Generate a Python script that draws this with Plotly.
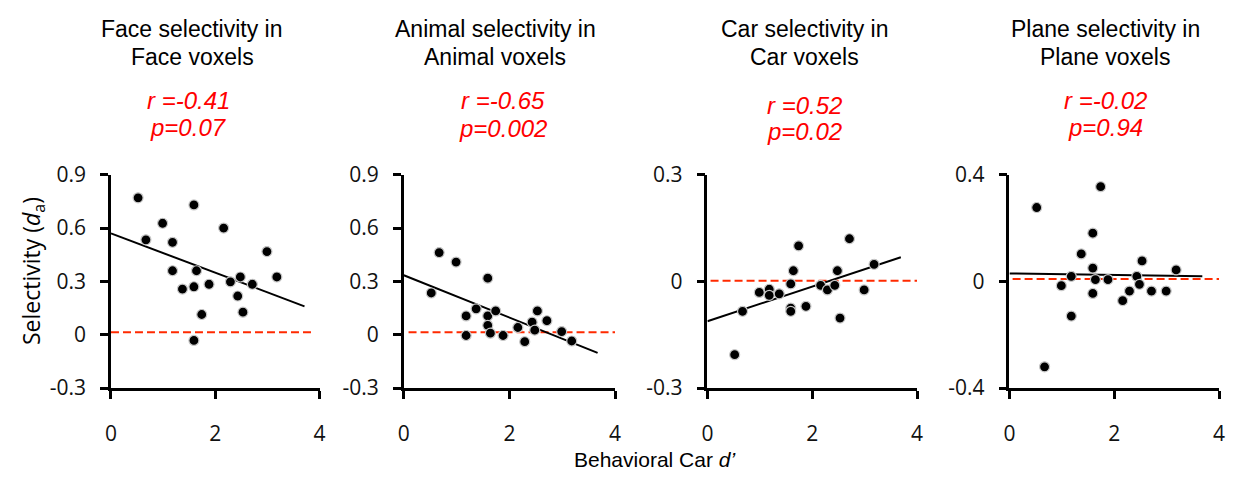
import plotly.graph_objects as go

W, H = 1235, 485

# Behavioral Car d' (shared x for each subject)
d_prime = [0.52, 0.67, 0.99, 1.18, 1.18, 1.37, 1.59, 1.59, 1.59, 1.64,
           1.74, 1.88, 2.16, 2.29, 2.43, 2.48, 2.53, 2.71, 2.99, 3.18]

face_sel = [0.77, 0.534, 0.627, 0.52, 0.36, 0.257, 0.73, 0.27, -0.032, 0.36,
            0.114, 0.284, 0.60, 0.298, 0.218, 0.325, 0.127, 0.284, 0.468, 0.325]
animal_sel = [0.235, 0.462, 0.409, 0.106, -0.004, 0.146, 0.318, 0.106, 0.053, 0.009,
              0.134, -0.004, 0.041, -0.039, 0.071, 0.026, 0.134, 0.079, 0.018, -0.035]
car_sel = [-0.206, -0.084, -0.031, -0.022, -0.039, -0.035, -0.007, -0.075, -0.084, 0.030,
           0.100, -0.070, -0.011, -0.024, -0.011, 0.030, -0.103, 0.120, -0.024, 0.048]
plane_sel = [0.277, -0.320, -0.016, 0.019, -0.130, 0.103, 0.181, 0.050, -0.045, 0.007,
             0.355, 0.007, -0.072, -0.036, 0.019, -0.011, 0.077, -0.036, -0.036, 0.043]

# regression line end points
fit_x = [[0, 3.71], [0, 3.67], [0, 3.69], [0, 3.68]]
fit_y = [[0.57, 0.16], [0.335, -0.102], [-0.112, 0.068], [0.030, 0.019]]

# zero reference lines
zero_x = [[0, 3.84], [0.09, 4.0], [0.06, 4.0], [0.06, 4.0]]
zero_y = [0.014, 0.014, 0.002, 0.009]

titles = [["Face selectivity in", "Face voxels"],
          ["Animal selectivity in", "Animal voxels"],
          ["Car selectivity in", "Car voxels"],
          ["Plane selectivity in", "Plane voxels"]]
r_text = ["r =-0.41", "r =-0.65", "r =0.52", "r =-0.02"]
p_text = ["p=0.07", "p=0.002", "p=0.02", "p=0.94"]

y_ranges = [[-0.3, 0.9], [-0.3, 0.9], [-0.3, 0.3], [-0.4, 0.4]]
y_ticks = [[-0.3, 0, 0.3, 0.6, 0.9], [-0.3, 0, 0.3, 0.6, 0.9], [-0.3, 0, 0.3], [-0.4, 0, 0.4]]
y_ticktext = [["-0.3", "0", "0.3", "0.6", "0.9"], ["-0.3", "0", "0.3", "0.6", "0.9"],
              ["-0.3", "0", "0.3"], ["-0.4", "0", "0.4"]]
x_ticks = [0, 2, 4]

series = [face_sel, animal_sel, car_sel, plane_sel]

# layout geometry (pixels)
x_dom_px = [(106, 316.7), (401.7, 615), (708.3, 920), (1013.3, 1225)]
y_top_px, y_bot_px = 169.5, 396
title_cx = [188, 494, 806, 1110]
title_y = (15, 45)
stat_cx = [184, 502, 806, 1110]
stat_y = [(91, 119), (91, 120), (96, 124), (91, 119)]

fig = go.Figure()
annotations = []

for i in range(4):
    xa = "x" if i == 0 else f"x{i+1}"
    ya = "y" if i == 0 else f"y{i+1}"
    fig.add_trace(go.Scatter(x=zero_x[i], y=[zero_y[i], zero_y[i]], mode="lines",
                             line=dict(color="#FF2A00", width=2, dash="8px,4px"),
                             xaxis=xa, yaxis=ya, showlegend=False, hoverinfo="skip"))
    fig.add_trace(go.Scatter(x=fit_x[i], y=fit_y[i], mode="lines",
                             line=dict(color="black", width=2),
                             xaxis=xa, yaxis=ya, showlegend=False, hoverinfo="skip"))
    fig.add_trace(go.Scatter(x=d_prime, y=series[i], mode="markers",
                             marker=dict(size=10, color="black",
                                         line=dict(color="#c8c8c8", width=1.2)),
                             xaxis=xa, yaxis=ya, showlegend=False, cliponaxis=False))

    x0, x1 = x_dom_px[i]
    xkey = "xaxis" if i == 0 else f"xaxis{i+1}"
    ykey = "yaxis" if i == 0 else f"yaxis{i+1}"
    fig.update_layout(**{
        xkey: dict(domain=[x0 / W, x1 / W], range=[0, 4], tickvals=x_ticks,
                   ticktext=[str(v) for v in x_ticks],
                   showline=True, linecolor="black", linewidth=2.5,
                   ticks="outside", ticklen=8, tickwidth=2.5, tickcolor="black",
                   showgrid=False, zeroline=False, anchor=ya,
                   tickfont=dict(family="Open Sans", size=21, color="#111"),
                   ticklabelstandoff=17),
        ykey: dict(domain=[1 - y_bot_px / H, 1 - y_top_px / H], range=y_ranges[i],
                   tickvals=y_ticks[i], ticktext=y_ticktext[i],
                   showline=True, linecolor="black", linewidth=2.5,
                   ticks="outside", ticklen=8, tickwidth=2.5, tickcolor="black",
                   showgrid=False, zeroline=False, anchor=xa,
                   tickfont=dict(family="Open Sans", size=21, color="#111"),
                   ticklabelstandoff=10),
    })

    for line, ypx in zip(titles[i], title_y):
        annotations.append(dict(text=line, x=title_cx[i] / W, y=1 - ypx / H,
                                xref="paper", yref="paper", xanchor="center", yanchor="middle",
                                showarrow=False,
                                font=dict(family="Liberation Sans", size=23, color="black")))
    annotations.append(dict(text=f"<i>{r_text[i]}</i>", x=stat_cx[i] / W, y=1 - stat_y[i][0] / H,
                            xref="paper", yref="paper", xanchor="center", yanchor="middle",
                            showarrow=False,
                            font=dict(family="Liberation Sans", size=24, color="#FF0000")))
    annotations.append(dict(text=f"<i>{p_text[i]}</i>", x=stat_cx[i] / W, y=1 - stat_y[i][1] / H,
                            xref="paper", yref="paper", xanchor="center", yanchor="middle",
                            showarrow=False,
                            font=dict(family="Liberation Sans", size=24, color="#FF0000")))

annotations.append(dict(text="Behavioral Car <i>d’</i>", x=655 / W, y=1 - 472 / H,
                        xref="paper", yref="paper", xanchor="center", yanchor="middle",
                        showarrow=False,
                        font=dict(family="Liberation Sans", size=21, color="black")))
annotations.append(dict(text="Selectivity (<i>d</i><sub>a</sub>)", x=27 / W, y=1 - 272 / H,
                        xref="paper", yref="paper", xanchor="center", yanchor="middle",
                        textangle=-90, showarrow=False,
                        font=dict(family="Open Sans", size=23, color="black")))

fig.update_layout(width=W, height=H, margin=dict(l=0, r=0, t=0, b=0),
                  paper_bgcolor="white", plot_bgcolor="white",
                  annotations=annotations)

fig.write_html("out.html")
